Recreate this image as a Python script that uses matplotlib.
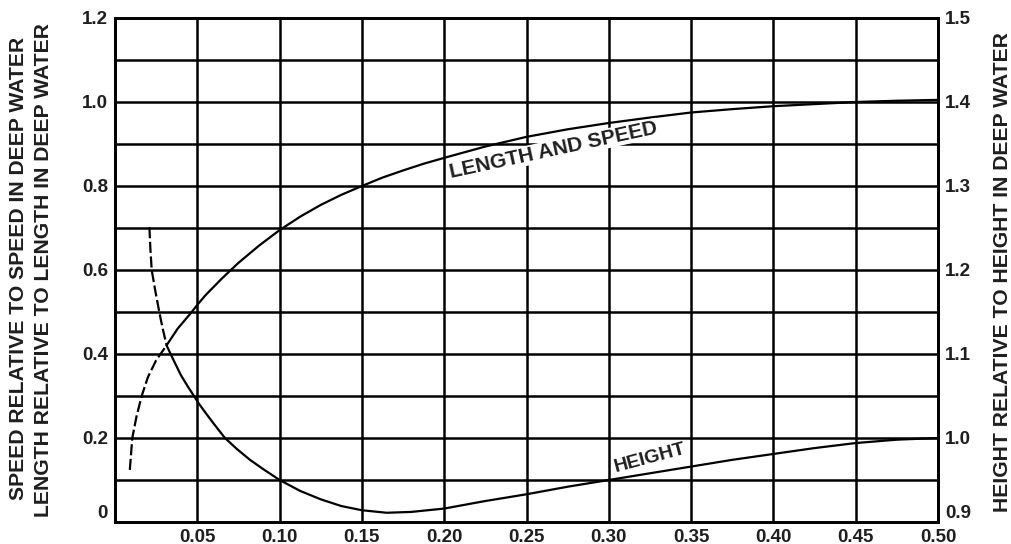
import matplotlib
matplotlib.use("Agg")
import matplotlib.pyplot as plt
import numpy as np

# relative depth d/L0 (x) and curve values
len_x = [0.009, 0.0105, 0.013, 0.0162, 0.020, 0.025, 0.0314, 0.038, 0.0466, 0.05, 0.055,
         0.065, 0.075, 0.0875, 0.10, 0.1125, 0.125, 0.1375, 0.15, 0.1625, 0.175, 0.1875,
         0.20, 0.225, 0.25, 0.275, 0.30, 0.325, 0.35, 0.375, 0.40, 0.425, 0.45, 0.475, 0.50]
len_y = [0.124, 0.20, 0.25, 0.30, 0.345, 0.385, 0.421, 0.46, 0.50, 0.517, 0.54,
         0.58, 0.617, 0.658, 0.695, 0.727, 0.755, 0.779, 0.80, 0.82, 0.837, 0.853,
         0.867, 0.894, 0.917, 0.935, 0.95, 0.963, 0.975, 0.983, 0.99, 0.995, 1.0, 1.003, 1.005]
len_dash_end = 0.0314

hgt_x = [0.0209, 0.0215, 0.0223, 0.0245, 0.0269, 0.0290, 0.0314, 0.035, 0.040, 0.044,
         0.048, 0.0502, 0.055, 0.060, 0.0668, 0.074, 0.082, 0.090, 0.10, 0.1125, 0.125,
         0.1375, 0.15, 0.165, 0.18, 0.20, 0.225, 0.25, 0.275, 0.30, 0.325, 0.35, 0.375,
         0.40, 0.425, 0.45, 0.475, 0.50]
hgt_y = [1.251, 1.225, 1.20, 1.175, 1.15, 1.13, 1.11, 1.095, 1.075, 1.062,
         1.05, 1.043, 1.03, 1.017, 1.0, 0.987, 0.974, 0.963, 0.95, 0.937, 0.927,
         0.919, 0.914, 0.911, 0.912, 0.916, 0.925, 0.933, 0.942, 0.95, 0.958, 0.966, 0.974,
         0.981, 0.988, 0.994, 0.998, 1.0]
hgt_dash_end = 0.0314

x_ticks = [0.05, 0.10, 0.15, 0.20, 0.25, 0.30, 0.35, 0.40, 0.45, 0.50]
x_labels = ["0.05", "0.10", "0.15", "0.20", "0.25", "0.30", "0.35", "0.40", "0.45", "0.50"]
yl_ticks = [0, 0.2, 0.4, 0.6, 0.8, 1.0, 1.2]
yl_labels = ["0", "0.2", "0.4", "0.6", "0.8", "1.0", "1.2"]
yr_ticks = [0.9, 1.0, 1.1, 1.2, 1.3, 1.4, 1.5]
yr_labels = ["0.9", "1.0", "1.1", "1.2", "1.3", "1.4", "1.5"]

FONT = "Liberation Sans"
INK = "#1e1e1e"
fig = plt.figure(figsize=(10.11, 5.44), dpi=100)
ax = fig.add_axes([115/1011, 22/544, (938-115)/1011, (522-18)/544])
ax.set_xlim(0, 0.5)
ax.set_ylim(0, 1.2)
axr = ax.twinx()
axr.set_ylim(0.9, 1.5)

# grid
for gx in np.arange(0.05, 0.5, 0.05):
    ax.axvline(gx, color="black", lw=1.8, zorder=1)
for gy in np.arange(0.1, 1.2, 0.1):
    ax.axhline(gy, color="black", lw=1.8, zorder=1)
for a in (ax, axr):
    for s in a.spines.values():
        s.set_linewidth(2.0)

dash = (0, (5, 1.6))
lx = np.array(len_x); ly = np.array(len_y)
m = lx <= len_dash_end
ax.plot(lx[m], ly[m], color="black", lw=1.6, ls=dash, zorder=3)
ax.plot(lx[lx >= len_dash_end], ly[lx >= len_dash_end], color="black", lw=1.6, zorder=3,
        solid_capstyle="round", solid_joinstyle="round")

hx = np.array(hgt_x); hy = np.array(hgt_y)
m = hx <= hgt_dash_end
axr.plot(hx[m], hy[m], color="black", lw=1.6, ls=dash, zorder=3)
axr.plot(hx[hx >= hgt_dash_end], hy[hx >= hgt_dash_end], color="black", lw=1.6, zorder=3,
         solid_capstyle="round", solid_joinstyle="round")

tick_font = dict(family=FONT, weight="bold", size=13.5, color=INK)
ax.set_xticks(x_ticks)
ax.set_xticklabels(x_labels, **tick_font)
ax.set_yticks(yl_ticks)
ax.set_yticklabels(yl_labels, **tick_font)
axr.set_yticks(yr_ticks)
axr.set_yticklabels(yr_labels, **tick_font)
ax.tick_params(axis="x", length=0, pad=5)
ax.tick_params(axis="y", length=0, pad=5)
axr.tick_params(axis="y", length=0, pad=5)
ax.get_yticklabels()[0].set_va("bottom")
axr.get_yticklabels()[0].set_va("bottom")

lab_font = dict(family=FONT, weight="bold", size=15.2, color=INK)
fig.text(19/1011, 1 - 268/544, "SPEED RELATIVE TO SPEED IN DEEP WATER", rotation=90,
         ha="center", va="center", **lab_font)
fig.text(44/1011, 1 - 270/544, "LENGTH RELATIVE TO LENGTH IN DEEP WATER", rotation=90,
         ha="center", va="center", **lab_font)
fig.text(1002/1011, 1 - 272/544, "HEIGHT RELATIVE TO HEIGHT IN DEEP WATER", rotation=90,
         ha="center", va="center", **lab_font)

ax.text(0.2667, 0.886, "LENGTH AND SPEED", rotation=12.2, rotation_mode="anchor",
        ha="center", va="center", zorder=4, family=FONT, weight="bold", size=15, color=INK,
        bbox=dict(facecolor="white", edgecolor="none", pad=0.3))
ax.text(0.325, 0.152, "HEIGHT", rotation=15, rotation_mode="anchor",
        ha="center", va="center", zorder=4, family=FONT, weight="bold", size=14, color=INK,
        bbox=dict(facecolor="white", edgecolor="none", pad=0.3))

fig.savefig("out.png", dpi=100)
